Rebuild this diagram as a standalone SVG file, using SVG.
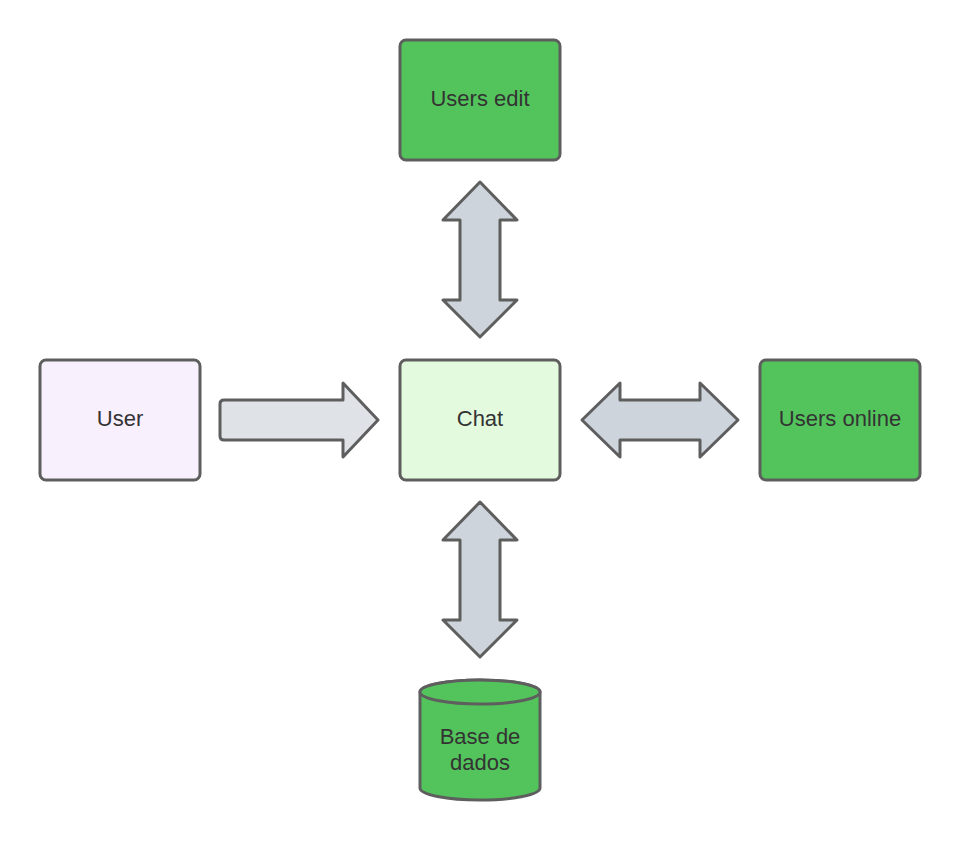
<svg xmlns="http://www.w3.org/2000/svg" width="960" height="860" viewBox="0 0 960 860">
<style>
.box{stroke:#5E5E5E;stroke-width:3}
.green{fill:#53C45C}
.arr{stroke:#5E5E5E;stroke-width:3;stroke-linejoin:round;fill:#CED4DB}
.lbl{font-family:"Liberation Sans",Arial,sans-serif;font-size:22px;fill:#333333;text-anchor:middle}
</style>
<rect width="960" height="860" fill="#FFFFFF"/>
<g id="connectors">
<path class="arr" style="fill:#DFE2E6" d="M224,400 L343,400 L343,383 L378,420 L343,457 L343,440 L224,440 Q220,440 220,436 L220,404 Q220,400 224,400 Z"/>
<path class="arr" d="M582,420 L620,383 L620,400 L700,400 L700,383 L738,420 L700,457 L700,440 L620,440 L620,457 Z"/>
<path class="arr" d="M480,182 L517,220 L500,220 L500,300 L517,300 L480,337 L443,300 L460,300 L460,220 L443,220 Z"/>
<path class="arr" d="M480,502 L517,540 L500,540 L500,620 L517,620 L480,657 L443,620 L460,620 L460,540 L443,540 Z"/>
</g>
<g id="users-edit">
<rect class="box green" x="400" y="40" width="160" height="120" rx="6"/>
<text class="lbl" x="480" y="106">Users edit</text>
</g>
<g id="user">
<rect class="box" fill="#F9F0FE" x="40" y="360" width="160" height="120" rx="6"/>
<text class="lbl" x="120" y="426">User</text>
</g>
<g id="chat">
<rect class="box" fill="#E3FADF" x="400" y="360" width="160" height="120" rx="6"/>
<text class="lbl" x="480" y="426">Chat</text>
</g>
<g id="users-online">
<rect class="box green" x="760" y="360" width="160" height="120" rx="6"/>
<text class="lbl" x="840" y="426">Users online</text>
</g>
<g id="base-de-dados">
<path class="box green" d="M420,692 L420,788 A60,12 0 0 0 540,788 L540,692 A60,12 0 0 0 420,692 Z"/>
<ellipse class="box green" cx="480" cy="692" rx="60" ry="12"/>
<text class="lbl" x="480" y="744">Base de</text>
<text class="lbl" x="480" y="770">dados</text>
</g>
</svg>
